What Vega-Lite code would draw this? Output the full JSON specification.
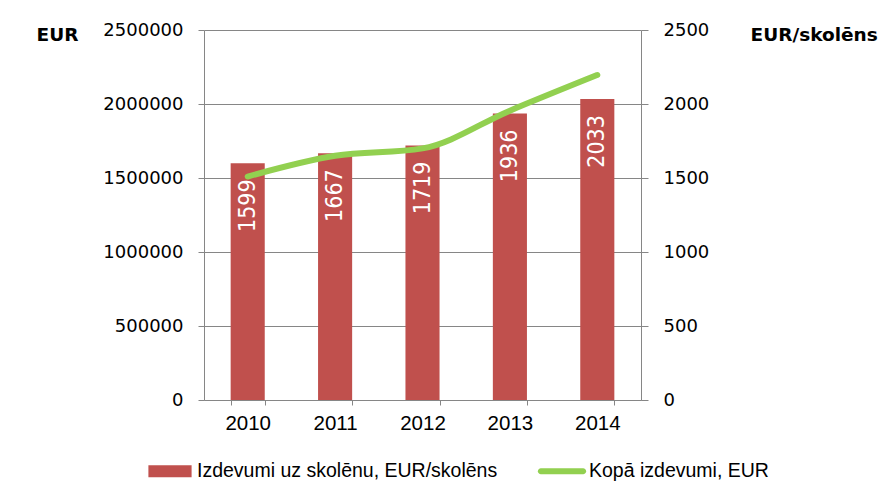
{
  "$schema": "https://vega.github.io/schema/vega-lite/v6.json",
  "width": 437,
  "height": 370,
  "autosize": {"type": "none"},
  "padding": {"left": 204, "top": 30, "right": 250, "bottom": 100},
  "background": "white",
  "config": {
    "view": {"stroke": null},
    "axis": {"domainColor": "#868686", "tickColor": "#868686", "gridColor": "#868686", "labelColor": "#000000", "titleColor": "#000000"}
  },
  "data": {
    "values": [
      {"year": "2010", "per": 1599, "total": 1510000},
      {"year": "2011", "per": 1667, "total": 1650000},
      {"year": "2012", "per": 1719, "total": 1700000},
      {"year": "2013", "per": 1936, "total": 1955000},
      {"year": "2014", "per": 2033, "total": 2196000}
    ]
  },
  "encoding": {
    "x": {
      "field": "year", "type": "ordinal",
      "scale": {"paddingInner": 0.61, "paddingOuter": 0.305},
      "axis": {"title": null, "labelAngle": 0, "tickBand": "extent", "tickSize": 5, "labelFont": "Liberation Sans", "labelFontSize": 20.5, "labelPadding": 8, "labelColor": "#000000"}
    }
  },
  "layer": [
    {
      "layer": [
        {
          "mark": {"type": "bar", "color": "#C0504D"},
          "encoding": {
            "y": {
              "field": "per", "type": "quantitative",
              "scale": {"domain": [0, 2500], "nice": false},
              "axis": {
                "orient": "right", "values": [0, 500, 1000, 1500, 2000, 2500], "format": "d", "grid": false,
                "tickSize": 7, "labelPadding": 15, "labelFont": "DejaVu Sans", "labelFontSize": 18,
                "title": "EUR/skolēns", "titleAngle": 0, "titleX": 109, "titleY": 4, "titleAlign": "left", "titleBaseline": "middle",
                "titleFont": "DejaVu Sans", "titleFontSize": 18.5, "titleFontWeight": "bold"
              }
            },
            "color": {
              "datum": "Izdevumi uz skolēnu, EUR/skolēns",
              "scale": {"domain": ["Izdevumi uz skolēnu, EUR/skolēns", "Kopā izdevumi, EUR"], "range": ["#C0504D", "#92D050"]},
              "legend": {
                "title": null, "orient": "none", "legendX": -58, "legendY": 417, "direction": "horizontal", "columns": 2,
                "columnPadding": 39, "labelOffset": 3, "padding": 0, "symbolSize": 2304, "labelLimit": 500,
                "labelFont": "Liberation Sans", "labelFontSize": 19.5, "labelColor": "#000000",
                "encode": {
                  "symbols": {
                    "update": {
                      "shape": {"signal": "datum.value === 'Kopā izdevumi, EUR' ? 'M-0.88,-0.125H0.88A0.125,0.125,0,0,1,0.88,0.125H-0.88A0.125,0.125,0,0,1,-0.88,-0.125Z' : 'M-0.9,-0.25H0.9V0.25H-0.9Z'"},
                      "fill": {"signal": "datum.value === 'Kopā izdevumi, EUR' ? '#92D050' : '#C0504D'"},
                      "stroke": {"value": "transparent"},
                      "strokeWidth": {"value": 0},
                      "opacity": {"value": 1},
                      "size": {"value": 2304}
                    }
                  }
                }
              }
            }
          }
        },
        {
          "mark": {"type": "text", "angle": -90, "align": "right", "baseline": "middle", "dx": -16, "color": "white", "font": "Liberation Sans Narrow, DejaVu Sans Condensed, sans-serif", "fontSize": 23},
          "encoding": {
            "y": {"field": "per", "type": "quantitative"},
            "text": {"field": "per", "type": "quantitative", "format": "d"}
          }
        }
      ]
    },
    {
      "mark": {"type": "line", "interpolate": "monotone", "strokeWidth": 6, "strokeCap": "round", "strokeJoin": "round"},
      "encoding": {
        "y": {
          "field": "total", "type": "quantitative",
          "scale": {"domain": [0, 2500000], "nice": false},
          "axis": {
            "orient": "left", "values": [0, 500000, 1000000, 1500000, 2000000, 2500000], "format": "d", "grid": true,
            "tickSize": 6, "labelPadding": 15, "labelFont": "DejaVu Sans", "labelFontSize": 18,
            "title": "EUR", "titleAngle": 0, "titleX": -168, "titleY": 4, "titleAlign": "left", "titleBaseline": "middle",
            "titleFont": "DejaVu Sans", "titleFontSize": 18.5, "titleFontWeight": "bold"
          }
        },
        "color": {"datum": "Kopā izdevumi, EUR"}
      }
    }
  ],
  "resolve": {"scale": {"y": "independent"}}
}
